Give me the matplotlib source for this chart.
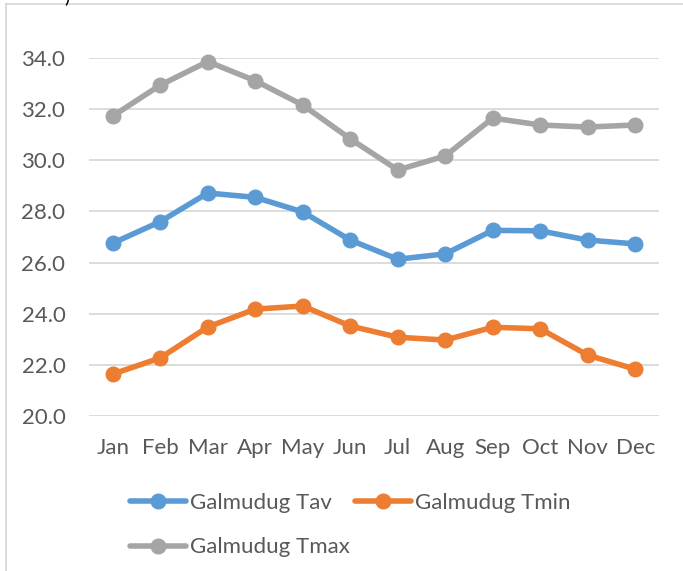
import matplotlib.pyplot as plt
from matplotlib.lines import Line2D

plt.rcParams['font.family'] = ['Lato', 'DejaVu Sans']

months = ['Jan', 'Feb', 'Mar', 'Apr', 'May', 'Jun',
          'Jul', 'Aug', 'Sep', 'Oct', 'Nov', 'Dec']
t_av = [26.76, 27.60, 28.72, 28.55, 27.98, 26.88,
        26.13, 26.34, 27.26, 27.24, 26.88, 26.73]
t_min = [21.64, 22.27, 23.48, 24.18, 24.30, 23.52,
         23.08, 22.97, 23.47, 23.41, 22.38, 21.83]
t_max = [31.73, 32.94, 33.86, 33.11, 32.16, 30.84,
         29.62, 30.17, 31.65, 31.38, 31.30, 31.38]
y_ticks = [20, 22, 24, 26, 28, 30, 32, 34]

c_av = '#5B9BD5'
c_min = '#ED7D31'
c_max = '#A5A5A5'
txt = '#595959'

W, H = 683, 571
fig = plt.figure(figsize=(W / 100, H / 100), dpi=100)
ax = fig.add_axes([89 / W, 1 - 416 / H, (659 - 89) / W, (416 - 58) / H])

x = list(range(len(months)))
lines = {}
for name, vals, col in [('Galmudug Tav', t_av, c_av),
                        ('Galmudug Tmin', t_min, c_min),
                        ('Galmudug Tmax', t_max, c_max)]:
    lines[name], = ax.plot(x, vals, color=col, linewidth=4.0, marker='o',
                           markersize=10.5, solid_capstyle='round',
                           clip_on=False, label=name)

ax.set_xlim(-0.5, 11.5)
ax.set_ylim(20, 34)
ax.set_yticks(y_ticks)
ax.set_yticklabels([f'{v:.1f}' for v in y_ticks])
ax.set_xticks(x)
ax.set_xticklabels(months)
ax.tick_params(axis='y', length=0, pad=17, labelsize=16, labelcolor=txt)
ax.tick_params(axis='x', length=0, pad=16, labelsize=16, labelcolor=txt)
ax.grid(axis='y', color='#D9D9D9', linewidth=1.3)
ax.set_axisbelow(True)
for s in ax.spines.values():
    s.set_visible(False)

# legend: Tav / Tmin on first row, Tmax below
order = ['Galmudug Tav', 'Galmudug Tmax', 'Galmudug Tmin']
fig.legend([lines[k] for k in order], order, ncol=2, frameon=False,
           loc='upper left', bbox_to_anchor=(130 / W, 1 - 493 / H),
           borderpad=0, borderaxespad=0,
           fontsize=16, labelcolor=txt, handlelength=2.5,
           handletextpad=0.18, columnspacing=0.25, labelspacing=1.1)

# outer frame
fig.add_artist(Line2D([6 / W, 1], [1 - 4 / H, 1 - 4 / H], color='#D9D9D9',
                      linewidth=1.3))
fig.add_artist(Line2D([6 / W, 6 / W], [0, 1 - 4 / H], color='#D9D9D9',
                      linewidth=1.3))
fig.text(64 / W, 1 - 2 / H, ')', fontsize=14, color='black', va='baseline')

fig.savefig('out.png', dpi=100)
